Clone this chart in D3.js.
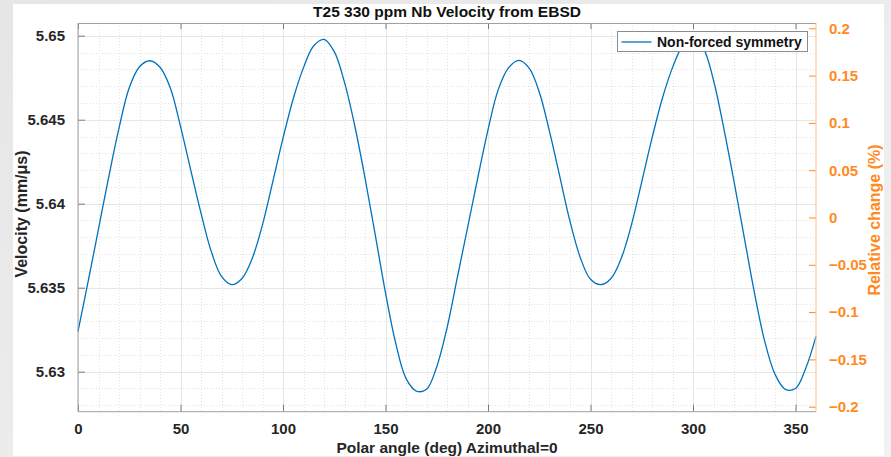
<!DOCTYPE html>
<html>
<head>
<meta charset="utf-8">
<script src="https://cdn.jsdelivr.net/npm/d3@7"></script>
<style>
  body { margin: 0; background: #ececec; }
  svg { display: block; font-family: "Liberation Sans", Arial, sans-serif; font-weight: bold; }
</style>
</head>
<body>
<div id="chart"></div>
<script>
// velocity vs polar angle, every 5 deg
var angles = d3.range(0, 361, 5);
var velocity = [
  5.63240, 5.63540, 5.63850, 5.64160, 5.64450, 5.64690, 5.64815, 5.64851, 5.64812, 5.64690,
  5.64460, 5.64200, 5.63944, 5.63716, 5.63567, 5.63518, 5.63555, 5.63675, 5.63875, 5.64130,
  5.64390, 5.64625, 5.64810, 5.64940, 5.64978, 5.64905, 5.64722, 5.64464, 5.64154, 5.63814,
  5.63469, 5.63169, 5.62960, 5.62885, 5.62895, 5.63030, 5.63260, 5.63558, 5.63855, 5.64153,
  5.64440, 5.64679, 5.64808, 5.64853, 5.64808, 5.64665, 5.64430, 5.64163, 5.63895, 5.63680,
  5.63550, 5.63518, 5.63555, 5.63675, 5.63875, 5.64130, 5.64390, 5.64625, 5.64810, 5.64940,
  5.64985, 5.64926, 5.64735, 5.64450, 5.64133, 5.63800, 5.63468, 5.63180, 5.62985, 5.62895,
  5.62900, 5.63020, 5.63210
];
var xTicks = [0, 50, 100, 150, 200, 250, 300, 350];
var yTicks = [5.63, 5.635, 5.64, 5.645, 5.65];
var rTicks = [-0.2, -0.15, -0.1, -0.05, 0, 0.05, 0.1, 0.15, 0.2];
var seriesName = "Non-forced symmetry";

var W = 891, H = 457;
var margin = {top: 23, right: 75, bottom: 45.3, left: 78},
    width = W - margin.left - margin.right,
    height = H - margin.top - margin.bottom;

var blue = "#0072bd", orange = "#ff8a1f", ink = "#262626";

var x = d3.scaleLinear().domain([0, 360]).range([0, width]);
var y = d3.scaleLinear().domain([5.627619, 5.650756]).range([height, 0]);
var yR = d3.scaleLinear().domain([-0.2053, 0.2056]).range([height, 0]);

var svg = d3.select("#chart").append("svg")
    .attr("width", W)
    .attr("height", H);

// light backdrop behind the figure
var grad = svg.append("defs").append("linearGradient")
    .attr("id", "bg").attr("x1", 0).attr("y1", 0).attr("x2", 1).attr("y2", 1);
grad.append("stop").attr("offset", "0%").attr("stop-color", "#e6e6e6");
grad.append("stop").attr("offset", "100%").attr("stop-color", "#f2f2f2");
svg.append("rect").attr("width", W).attr("height", H).attr("fill", "url(#bg)");

// white figure panel
svg.append("rect")
    .attr("x", 13).attr("y", 4)
    .attr("width", 871).attr("height", 452)
    .attr("fill", "#fff");

var g = svg.append("g")
    .attr("transform", "translate(" + margin.left + "," + margin.top + ")");

// minor grid (dotted)
g.append("g").selectAll("line")
    .data(d3.range(10, 360, 10).filter(function(d) { return d % 50 !== 0; }))
  .enter().append("line")
    .attr("x1", function(d) { return Math.round(x(d)) + 0.5; })
    .attr("x2", function(d) { return Math.round(x(d)) + 0.5; })
    .attr("y1", 0).attr("y2", height)
    .attr("stroke", "#e3e3e3").attr("stroke-dasharray", "1,2");

g.append("g").selectAll("line")
    .data(d3.range(5.628, 5.651, 0.001).filter(function(d) {
      return Math.abs(d * 200 - Math.round(d * 200)) > 1e-6;
    }))
  .enter().append("line")
    .attr("y1", function(d) { return Math.round(y(d)) + 0.5; })
    .attr("y2", function(d) { return Math.round(y(d)) + 0.5; })
    .attr("x1", 0).attr("x2", width)
    .attr("stroke", "#e3e3e3").attr("stroke-dasharray", "1,2");

// major grid
g.append("g").selectAll("line")
    .data(xTicks)
  .enter().append("line")
    .attr("x1", function(d) { return Math.round(x(d)) + 0.5; })
    .attr("x2", function(d) { return Math.round(x(d)) + 0.5; })
    .attr("y1", 0).attr("y2", height)
    .attr("stroke", "#e6e6e6");

g.append("g").selectAll("line")
    .data(yTicks)
  .enter().append("line")
    .attr("y1", function(d) { return Math.round(y(d)) + 0.5; })
    .attr("y2", function(d) { return Math.round(y(d)) + 0.5; })
    .attr("x1", 0).attr("x2", width)
    .attr("stroke", "#e6e6e6");

// curve
var data = angles.map(function(a, i) { return {angle: a, v: velocity[i]}; });

var line = d3.line()
    .curve(d3.curveCatmullRom)
    .x(function(d) { return x(d.angle); })
    .y(function(d) { return y(d.v); });

g.append("path")
    .datum(data)
    .attr("fill", "none")
    .attr("stroke", blue)
    .attr("stroke-width", 1.3)
    .attr("d", line);

// axes (MATLAB style: ticks inside)
function styleAxis(sel, tickColor, textColor) {
  sel.select(".domain").remove();
  sel.selectAll(".tick line").attr("stroke", tickColor);
  sel.selectAll(".tick text")
      .attr("fill", textColor)
      .style("font-size", "15px")
      .style("font-family", "'Liberation Sans', Arial, sans-serif")
      .style("font-weight", "bold");
}

var xAxis = g.append("g")
    .attr("transform", "translate(0," + height + ")")
    .call(d3.axisBottom(x).tickValues(xTicks).tickSizeInner(-7).tickSizeOuter(0).tickPadding(12));
styleAxis(xAxis, "#7a7a7a", ink);

var xTop = g.append("g")
    .call(d3.axisTop(x).tickValues(xTicks).tickSizeInner(-6).tickSizeOuter(0).tickFormat(""));
styleAxis(xTop, "#7a7a7a", ink);

var yAxis = g.append("g")
    .call(d3.axisLeft(y).tickValues(yTicks).tickSizeInner(-7).tickSizeOuter(0).tickPadding(13)
      .tickFormat(d3.format("")));
styleAxis(yAxis, "#7a7a7a", ink);

var rAxis = g.append("g")
    .attr("transform", "translate(" + width + ",0)")
    .call(d3.axisRight(yR).tickValues(rTicks).tickSizeInner(-7).tickSizeOuter(0).tickPadding(13)
      .tickFormat(function(d) { return d3.format("")(+d.toFixed(2)); }));
styleAxis(rAxis, orange, orange);

// box
g.append("line").attr("x1", 0).attr("x2", width).attr("y1", 0.5).attr("y2", 0.5).attr("stroke", "#a0a0a0");
g.append("line").attr("x1", 0).attr("x2", width).attr("y1", height).attr("y2", height).attr("stroke", "#a0a0a0");
g.append("line").attr("x1", 0).attr("x2", 0).attr("y1", 0).attr("y2", height).attr("stroke", "#a0a0a0");
g.append("line").attr("x1", width).attr("x2", width).attr("y1", 0).attr("y2", height).attr("stroke", "#ffbf85");

// labels
svg.append("text")
    .attr("x", margin.left + width / 2).attr("y", 17)
    .attr("text-anchor", "middle")
    .attr("fill", "#111")
    .style("font-size", "15.5px")
    .text("T25 330 ppm Nb Velocity from EBSD");

svg.append("text")
    .attr("x", margin.left + width / 2).attr("y", 452.5)
    .attr("text-anchor", "middle")
    .attr("fill", ink)
    .style("font-size", "15.5px")
    .text("Polar angle (deg) Azimuthal=0");

svg.append("text")
    .attr("transform", "translate(26.5," + 214 + ") rotate(-90)")
    .attr("text-anchor", "middle")
    .attr("fill", ink)
    .style("font-size", "16px")
    .text("Velocity (mm/\u03bcs)");

svg.append("text")
    .attr("transform", "translate(880," + 220 + ") rotate(-90)")
    .attr("text-anchor", "middle")
    .attr("fill", orange)
    .style("font-size", "16px")
    .text("Relative change (%)");

// legend
var lg = g.append("g").attr("transform", "translate(" + (617.5 - margin.left) + "," + (31.5 - margin.top) + ")");
lg.append("rect")
    .attr("width", 190).attr("height", 20)
    .attr("fill", "#fff").attr("stroke", "#8c8c8c");
lg.append("line")
    .attr("x1", 4).attr("x2", 34).attr("y1", 10.5).attr("y2", 10.5)
    .attr("stroke", blue).attr("stroke-width", 1.3);
lg.append("text")
    .attr("x", 39.5).attr("y", 15.5)
    .attr("fill", "#111")
    .style("font-size", "14px")
    .text(seriesName);
</script>
</body>
</html>
